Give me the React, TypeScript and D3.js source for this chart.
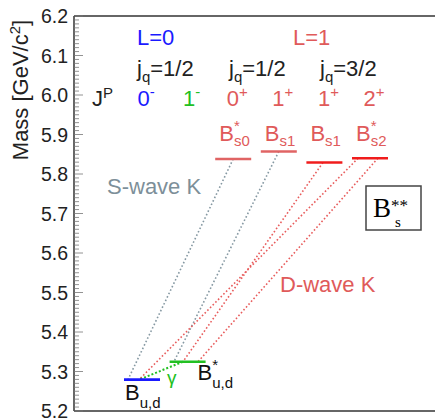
import React from "react";
import * as d3 from "d3";

const levelNames = ["B", "Bstar", "Bs0star", "Bs1", "Bs1prime", "Bs2star"];
const levelMasses = [5.2795, 5.3247, 5.838, 5.857, 5.829, 5.84];
const levelColors = ["#1a1aff", "#22c022", "#e06464", "#e06464", "#f01c1c", "#f01c1c"];
const jValues = ["0", "1", "0", "1", "1", "2"];
const parities = ["-", "-", "+", "+", "+", "+"];
const jpColors = ["#1a1aff", "#22c022", "#e05a5a", "#e05a5a", "#e05a5a", "#e05a5a"];
const bsMain = ["B", "B", "B", "B"];
const bsSub = ["s0", "s1", "s1", "s2"];
const bsStar = [true, false, false, true];
const yTicks = [5.2, 5.3, 5.4, 5.5, 5.6, 5.7, 5.8, 5.9, 6.0, 6.1, 6.2];

// transitions: from level, to level, fractional position on each level bar
const transFrom = [2, 3, 4, 5, 5, 1];
const transTo = [0, 1, 1, 0, 1, 0];
const transFromFrac = [0.5, 0.5, 0.46, 0.17, 0.72, 0.37];
const transToFrac = [0.11, 0.12, 0.37, 0.42, 0.79, 0.42];
const transKind = ["S", "S", "D", "D", "D", "g"];
const kindColor: Record<string, string> = { S: "#8598a2", D: "#e85c5c", g: "#22c022" };

const W = 435;
const H = 419;

export default function App() {
  const y = d3.scaleLinear().domain([5.2, 6.2]).range([411, 16]);
  const x = d3.scaleLinear().domain([0, 5]).range([142, 370]);
  const half = 18;
  const xf = (i: number, f: number) => x(i) - half + 2 * half * f;
  const minor = d3.range(520, 621).map((v) => v / 100);
  const font = "'Liberation Sans', Arial, sans-serif";
  const serif = "'Liberation Serif', 'Times New Roman', serif";
  const red = "#e05a5a";
  const fs = 22;
  const starW = 0.389 * 15;

  return (
    <svg width={W} height={H} style={{ position: "absolute", left: 0, top: 0 }} fontFamily={font}>
      <rect width={W} height={H} fill="white" />
      {/* frame */}
      <line x1={74} x2={W} y1={y(6.2)} y2={y(6.2)} stroke="#333" strokeWidth={1.5} />
      <line x1={74} x2={W} y1={y(5.2)} y2={y(5.2)} stroke="#333" strokeWidth={1.5} />
      <line x1={74} x2={74} y1={y(6.2)} y2={y(5.2)} stroke="#333" strokeWidth={1.5} />
      {minor.map((m, i) => (
        <line key={"mt" + i} x1={74} x2={i % 10 === 0 ? 83 : 79} y1={y(m)} y2={y(m)} stroke="#777" strokeWidth={0.8} />
      ))}
      {yTicks.map((t) => (
        <text key={"yt" + t} x={68} y={y(t) + 7} textAnchor="end" fontSize={19.5} fill="#222">
          {t.toFixed(1)}
        </text>
      ))}
      <text transform={`translate(28,${90}) rotate(-90)`} textAnchor="middle" fontSize={fs} fill="#222">
        Mass [GeV/c<tspan dy={-8} fontSize={15}>2</tspan>
        <tspan dy={8}>]</tspan>
      </text>

      {/* header labels */}
      <text x={137} y={45} fontSize={fs} fill="#1a1aff">L=0</text>
      <text x={293} y={45} fontSize={fs} fill={red}>L=1</text>
      {[137, 229, 320].map((sx, i) => (
        <text key={"jq" + i} x={sx} y={76} fontSize={fs} fill="#222">
          j<tspan dy={6} fontSize={15}>q</tspan>
          <tspan dy={-6}>{i === 2 ? "=3/2" : "=1/2"}</tspan>
        </text>
      ))}
      <text x={92} y={106} fontSize={fs} fill="#222">
        J<tspan dy={-8} fontSize={15}>P</tspan>
      </text>
      {jValues.map((j, i) => (
        <text key={"jp" + i} x={x(i) + 4} y={106} fontSize={fs} fill={jpColors[i]} textAnchor="middle">
          {j}
          <tspan dy={-9} fontSize={15}>{parities[i]}</tspan>
        </text>
      ))}
      {bsMain.map((b, k) => {
        const i = k + 2;
        return (
          <text key={"bs" + k} x={x(i) - 14} y={141} fontSize={fs} fill={red}>
            {b}
            {bsStar[k] ? (
              <>
                <tspan dy={-10} fontSize={15}>*</tspan>
                <tspan dx={-starW} dy={15} fontSize={15}>{bsSub[k]}</tspan>
              </>
            ) : (
              <tspan dy={5} fontSize={15}>{bsSub[k]}</tspan>
            )}
          </text>
        );
      })}

      {/* transitions */}
      {transFrom.map((fi, k) => (
        <line
          key={"tr" + k}
          x1={xf(fi, transFromFrac[k])}
          y1={y(levelMasses[fi])}
          x2={xf(transTo[k], transToFrac[k])}
          y2={y(levelMasses[transTo[k]])}
          stroke={kindColor[transKind[k]]}
          strokeWidth={transKind[k] === "g" ? 2 : 1.6}
          strokeDasharray={transKind[k] === "g" ? "2,2" : "1.6,2.2"}
        />
      ))}

      {/* levels */}
      {levelNames.map((n, i) => (
        <line
          key={n}
          x1={x(i) - half}
          x2={x(i) + half}
          y1={y(levelMasses[i])}
          y2={y(levelMasses[i])}
          stroke={levelColors[i]}
          strokeWidth={2.6}
        />
      ))}

      <text x={107} y={194} fontSize={fs} fill="#7d8f99">S-wave K</text>
      <text x={280} y={292} fontSize={fs} fill={red}>D-wave K</text>

      <text x={x(0) - 17} y={400} fontSize={fs} fill="#111">
        B<tspan dy={8} fontSize={15}>u,d</tspan>
      </text>
      <text x={x(1) + 10} y={380} fontSize={fs} fill="#111">
        B<tspan dy={-10} fontSize={15}>*</tspan>
        <tspan dx={-starW} dy={18} fontSize={15}>u,d</tspan>
      </text>
      <text x={167} y={384} fontSize={19} fill="#22c022">γ</text>

      <rect x={366} y={186} width={55} height={44} fill="white" stroke="#444" strokeWidth={1.5} />
      <text x={373} y={217} fontSize={27} fill="#000" fontFamily={serif}>
        B<tspan dy={-6} fontSize={17}>**</tspan>
        <tspan dx={-13} dy={16} fontSize={15}>s</tspan>
      </text>
    </svg>
  );
}
